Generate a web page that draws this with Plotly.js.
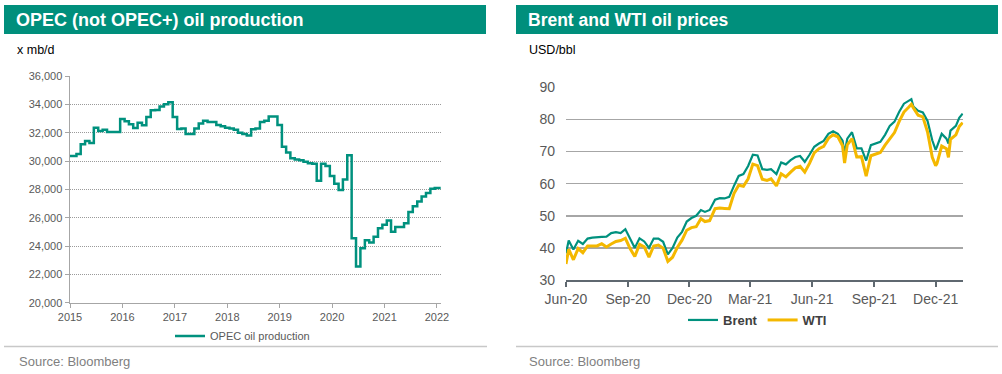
<!DOCTYPE html>
<html>
<head>
<meta charset="utf-8">
<script src="https://cdn.plot.ly/plotly-3.0.1.min.js"></script>
<style>
html,body{margin:0;padding:0;background:#fff;}
#chart{width:1002px;height:374px;}
</style>
</head>
<body>
<div id="chart"></div>
<script>
// ---------- Left chart: OPEC oil production (monthly, x 1000 b/d) ----------
const opecMonths = [];
for (let y = 2015; y <= 2022; y++) {
  for (let m = 1; m <= 12; m++) {
    if (y === 2022 && m > 2) break;
    opecMonths.push(y + '-' + String(m).padStart(2, '0') + '-01');
  }
}
const opecValues = [
  30350, 30350, 30500, 31180, 31420, 31280, 32350, 32120, 32200, 32050, 32050, 32050,
  32970, 32800, 32600, 32330, 32700, 32520, 33100, 33590, 33600, 33850, 34000, 34150,
  33100, 32260, 32300, 31900, 31900, 32300, 32650, 32850, 32750, 32750, 32550, 32450,
  32350, 32300, 32200, 32000, 31900, 31800, 32250, 32300, 32750, 32850, 33150, 33150,
  32550, 31000, 30600, 30200, 30100, 30050, 29950, 29850, 29800, 28600, 29800, 29650,
  28950, 28400, 27950, 28700, 30400, 24550, 22550, 23850, 24400, 24250, 24650, 25250,
  25500, 25800, 25000, 25350, 25350, 25600, 26400, 26800, 27150, 27500, 27750, 28050,
  28100, 28100
];

// ---------- Right chart: Brent and WTI (USD/bbl) ----------
const priceDates = [
  '2020-06-01','2020-06-05','2020-06-12','2020-06-19','2020-06-26','2020-07-03','2020-07-10','2020-07-17',
  '2020-07-24','2020-07-31','2020-08-07','2020-08-14','2020-08-21','2020-08-28','2020-09-04','2020-09-11',
  '2020-09-18','2020-09-25','2020-10-02','2020-10-09','2020-10-16','2020-10-23','2020-10-30','2020-11-06',
  '2020-11-13','2020-11-20','2020-11-27','2020-12-04','2020-12-11','2020-12-18','2020-12-24','2020-12-31',
  '2021-01-08','2021-01-15','2021-01-22','2021-01-29','2021-02-05','2021-02-12','2021-02-19','2021-02-26',
  '2021-03-05','2021-03-12','2021-03-19','2021-03-26','2021-04-01','2021-04-09','2021-04-16','2021-04-23',
  '2021-04-30','2021-05-07','2021-05-14','2021-05-21','2021-05-28','2021-06-04','2021-06-11','2021-06-18',
  '2021-06-25','2021-07-02','2021-07-09','2021-07-16','2021-07-19','2021-07-23','2021-07-30','2021-08-06',
  '2021-08-13','2021-08-20','2021-08-27','2021-09-03','2021-09-10','2021-09-17','2021-09-24','2021-10-01',
  '2021-10-08','2021-10-15','2021-10-22','2021-10-26','2021-10-29','2021-11-05','2021-11-12','2021-11-19',
  '2021-11-26','2021-12-01','2021-12-03','2021-12-10','2021-12-17','2021-12-20','2021-12-23','2021-12-31',
  '2022-01-05','2022-01-10'
];
const brent = [
  38.3, 42.3, 39.5, 42.2, 41.2, 42.9, 43.2, 43.2,
  43.4, 43.5, 44.6, 44.9, 44.6, 45.8, 42.8, 40.0,
  43.0, 42.0, 40.0, 42.9, 42.9, 41.9, 38.0, 40.0,
  43.2, 45.0, 48.2, 49.3, 50.0, 51.8, 51.2, 51.8,
  55.0, 55.5, 55.4, 55.9, 59.3, 62.4, 63.0, 65.5,
  69.0, 68.8, 64.5, 64.3, 64.5, 63.0, 66.6, 66.0,
  67.3, 68.3, 68.6, 66.8, 69.0, 71.5, 72.5, 73.3,
  75.5, 76.3, 75.5, 73.4, 69.5, 74.0, 76.0, 71.0,
  71.0, 67.2, 72.0, 72.6, 73.0, 75.2, 78.0, 79.3,
  82.4, 84.9, 85.8, 86.3, 84.0, 82.7, 82.2, 79.5,
  73.5, 70.5, 71.5, 75.5, 74.0, 72.5, 76.5, 78.0,
  80.5, 81.8
];
const wti = [
  35.0, 39.6, 36.3, 39.8, 38.5, 40.6, 40.6, 40.6,
  41.3, 40.3, 41.2, 42.0, 42.3, 43.0, 39.8, 37.3,
  41.1, 40.3, 37.1, 40.6, 40.9, 39.9, 35.8, 37.1,
  40.1, 42.4, 45.5, 46.3, 46.6, 49.1, 48.2, 48.5,
  52.2, 52.4, 52.3, 52.2, 56.9, 59.5, 59.2, 61.5,
  66.1, 65.6, 61.4, 61.0, 61.5, 59.3, 63.1, 62.1,
  63.6, 64.9, 65.4, 63.6, 66.3, 69.6, 70.9, 71.6,
  74.1, 75.2, 74.6, 71.8, 66.4, 72.1, 74.0, 68.3,
  68.4, 62.3, 68.7, 69.3, 69.7, 72.0, 74.0, 75.9,
  79.4, 82.3, 83.8, 84.7, 83.6, 81.3, 80.8, 76.1,
  68.2, 65.6, 66.3, 71.7, 70.9, 68.2, 73.8, 75.2,
  77.8, 79.0
];

const TEAL = '#00917e';
const HEAD = '#008f7c';
const GOLD = '#f4b800';
const FONT = 'Liberation Sans, Arial, sans-serif';
const NARROW = 'Liberation Sans Narrow, Arial Narrow, Liberation Sans, Arial, sans-serif';
const W = 1002, H = 374;
const px = v => v / W;
const py = v => 1 - v / H;

const traces = [
  {
    x: opecMonths, y: opecValues, type: 'scatter', mode: 'lines',
    line: {color: TEAL, width: 2.5, shape: 'hvh'},
    name: 'OPEC oil production', xaxis: 'x', yaxis: 'y', legend: 'legend',
    hoverinfo: 'skip'
  },
  {
    x: priceDates, y: brent, type: 'scatter', mode: 'lines',
    line: {color: TEAL, width: 2.2},
    name: '<b>Brent</b>', xaxis: 'x2', yaxis: 'y2', legend: 'legend2',
    hoverinfo: 'skip'
  },
  {
    x: priceDates, y: wti, type: 'scatter', mode: 'lines',
    line: {color: GOLD, width: 3},
    name: '<b>WTI</b>', xaxis: 'x2', yaxis: 'y2', legend: 'legend2',
    hoverinfo: 'skip'
  }
];

const layout = {
  width: W, height: H,
  margin: {l: 0, r: 0, t: 0, b: 0},
  paper_bgcolor: '#fff', plot_bgcolor: '#fff',
  font: {family: FONT, color: '#595959'},
  showlegend: true,
  xaxis: {
    domain: [px(70), px(440.7)], anchor: 'y', type: 'date',
    range: ['2015-01-01', '2022-01-27'],
    dtick: 'M12', tick0: '2015-01-01', tickformat: '%Y',
    showgrid: false, zeroline: false,
    showline: true, linecolor: '#a6a6a6', linewidth: 1.5,
    ticks: 'outside', ticklen: 4, tickcolor: '#a6a6a6', tickwidth: 1,
    tickfont: {family: FONT, size: 11, color: '#595959'}
  },
  yaxis: {
    domain: [py(302.7), py(76)], anchor: 'x',
    range: [20000, 36000], dtick: 2000, tickformat: ',d',
    showgrid: true, gridcolor: '#9a9a9a', gridwidth: 1, griddash: '1px,1px',
    zeroline: false,
    showline: true, linecolor: '#a6a6a6', linewidth: 1.5,
    ticks: 'outside', ticklen: 4, tickcolor: '#a6a6a6',
    tickfont: {family: FONT, size: 11, color: '#595959'}
  },
  xaxis2: {
    domain: [px(566), px(963.3)], anchor: 'y2', type: 'date',
    range: ['2020-06-01', '2022-01-11'],
    dtick: 'M3', tick0: '2020-06-01', tickformat: '%b-%y',
    showgrid: false, zeroline: false,
    showline: true, linecolor: '#5f6870', linewidth: 2,
    ticks: 'outside', ticklen: 5, tickcolor: '#5f6870', tickwidth: 2,
    tickfont: {family: FONT, size: 14, color: '#595959'}
  },
  yaxis2: {
    domain: [py(280), py(87.3)], anchor: 'x2',
    range: [30, 90], dtick: 10,
    showgrid: true, gridcolor: '#a6a6a6', gridwidth: 1.5,
    zeroline: false, showline: false, ticks: '',
    ticklabelstandoff: 10,
    tickfont: {family: FONT, size: 14, color: '#595959'}
  },
  legend: {
    orientation: 'h', x: px(170), y: py(336), xanchor: 'left', yanchor: 'middle',
    font: {family: NARROW, size: 11, color: '#595959'},
    bgcolor: 'rgba(0,0,0,0)', itemwidth: 30
  },
  legend2: {
    orientation: 'h', x: px(683), y: py(320), xanchor: 'left', yanchor: 'middle',
    font: {family: FONT, size: 13, color: '#404040'},
    bgcolor: 'rgba(0,0,0,0)', itemwidth: 30
  },
  shapes: [
    {type: 'rect', xref: 'paper', yref: 'paper', x0: px(4), x1: px(486), y0: py(34), y1: py(5),
     fillcolor: HEAD, line: {width: 0}, layer: 'below'},
    {type: 'rect', xref: 'paper', yref: 'paper', x0: px(516), x1: px(998), y0: py(34), y1: py(5),
     fillcolor: HEAD, line: {width: 0}, layer: 'below'},
    {type: 'line', xref: 'paper', yref: 'paper', x0: px(4), x1: px(487), y0: py(346.5), y1: py(346.5),
     line: {color: '#c8c8c8', width: 1.5}},
    {type: 'line', xref: 'paper', yref: 'paper', x0: px(516), x1: px(998), y0: py(346.5), y1: py(346.5),
     line: {color: '#c8c8c8', width: 1.5}}
  ],
  annotations: [
    {text: '<b>OPEC (not OPEC+) oil production</b>', xref: 'paper', yref: 'paper',
     x: px(14), y: py(20), xanchor: 'left', yanchor: 'middle', showarrow: false,
     font: {family: FONT, size: 18, color: '#ffffff'}},
    {text: '<b>Brent and WTI oil prices</b>', xref: 'paper', yref: 'paper',
     x: px(526), y: py(20), xanchor: 'left', yanchor: 'middle', showarrow: false,
     font: {family: FONT, size: 17.5, color: '#ffffff'}},
    {text: 'x mb/d', xref: 'paper', yref: 'paper', x: px(15), y: py(50),
     xanchor: 'left', yanchor: 'middle', showarrow: false,
     font: {family: FONT, size: 12.5, color: '#000000'}},
    {text: 'USD/bbl', xref: 'paper', yref: 'paper', x: px(527), y: py(50),
     xanchor: 'left', yanchor: 'middle', showarrow: false,
     font: {family: FONT, size: 12.5, color: '#000000'}},
    {text: 'Source: Bloomberg', xref: 'paper', yref: 'paper', x: px(17), y: py(361),
     xanchor: 'left', yanchor: 'middle', showarrow: false,
     font: {family: NARROW, size: 13, color: '#7f7f7f'}},
    {text: 'Source: Bloomberg', xref: 'paper', yref: 'paper', x: px(527), y: py(361),
     xanchor: 'left', yanchor: 'middle', showarrow: false,
     font: {family: NARROW, size: 13, color: '#7f7f7f'}}
  ]
};

Plotly.newPlot('chart', traces, layout, {staticPlot: true, displayModeBar: false});
</script>
</body>
</html>
